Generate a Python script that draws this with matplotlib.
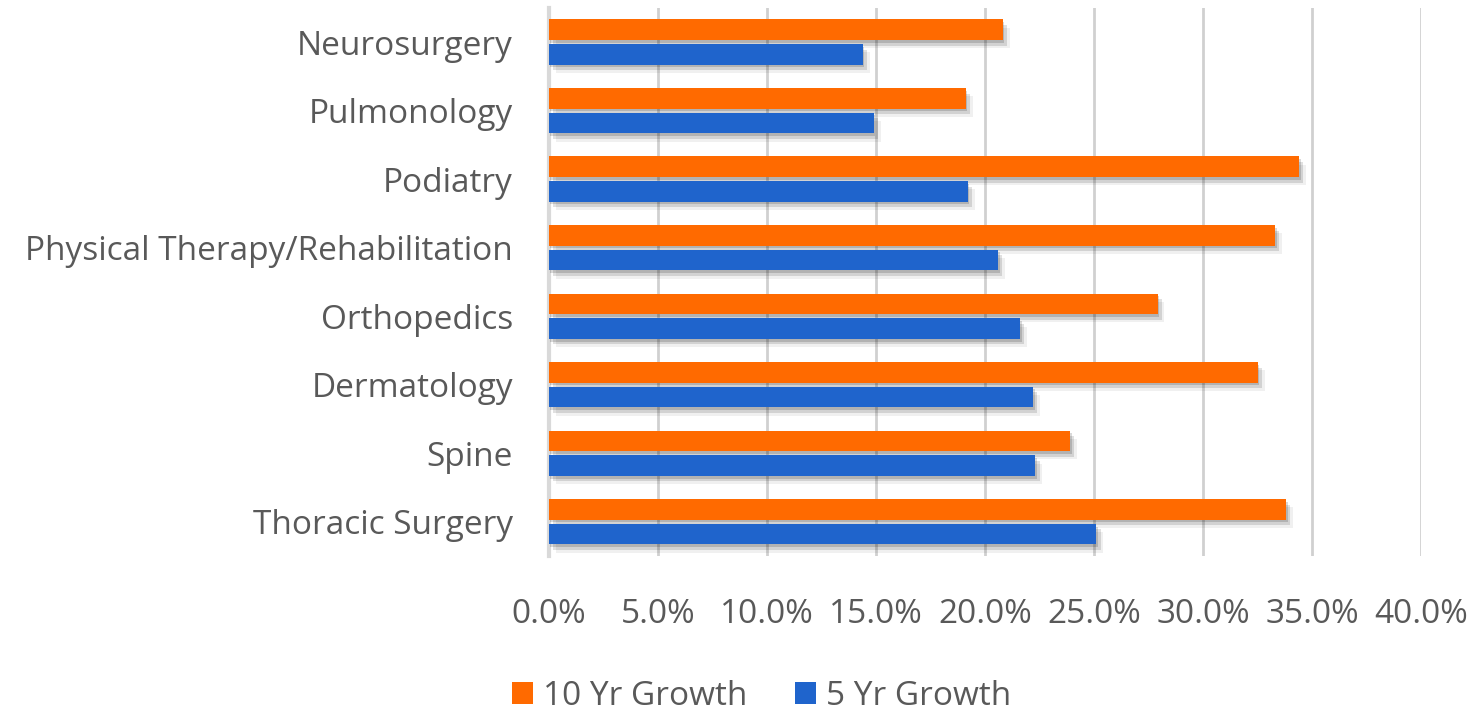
import numpy as np
import matplotlib
matplotlib.use("Agg")
import matplotlib.pyplot as plt
import matplotlib.patheffects as pe
from matplotlib.patches import Patch
from matplotlib.ticker import FuncFormatter, MultipleLocator

# Données (de bas en haut)
specialites = ["Thoracic Surgery", "Spine", "Dermatology", "Orthopedics",
               "Physical Therapy/Rehabilitation", "Podiatry", "Pulmonology", "Neurosurgery"]
croissance_10 = [0.338, 0.239, 0.325, 0.279, 0.333, 0.344, 0.191, 0.208]
croissance_5 = [0.251, 0.223, 0.222, 0.216, 0.206, 0.192, 0.149, 0.144]

gris_texte = "#595959"
orange = "#FF6A00"
bleu = "#1F64CC"

plt.rcParams['font.family'] = ['Open Sans', 'DejaVu Sans']

fig = plt.figure(figsize=(14.76, 7.1), dpi=100)
ax = fig.add_axes([0.372, 0.217, 0.591, 0.772])

y = np.arange(len(specialites))
hauteur = 0.30
# ombre douce : plusieurs couches décalées
ombre = [pe.SimplePatchShadow(offset=(1, -2), shadow_rgbFace="#000000", alpha=0.15),
         pe.SimplePatchShadow(offset=(3, -4), shadow_rgbFace="#000000", alpha=0.12),
         pe.SimplePatchShadow(offset=(5, -6), shadow_rgbFace="#000000", alpha=0.06),
         pe.Normal()]

ax.barh(y + 0.18, croissance_10, height=hauteur, color=orange, path_effects=ombre, zorder=3)
ax.barh(y - 0.18, croissance_5, height=hauteur, color=bleu, path_effects=ombre, zorder=3)

ax.set_xlim(0, 0.40)
ax.set_ylim(-0.5, len(specialites) - 0.5)
ax.xaxis.set_major_locator(MultipleLocator(0.05))
ax.xaxis.set_major_formatter(FuncFormatter(lambda v, _: f"{v*100:.1f}%"))
ax.set_yticks(y)
ax.set_yticklabels(specialites)

ax.grid(axis='x', color="#d0d0d0", linewidth=2, zorder=0)
for s in ["top", "right", "bottom"]:
    ax.spines[s].set_visible(False)
ax.spines["left"].set_color("#d9d9d9")
ax.spines["left"].set_linewidth(3)

ax.tick_params(axis='x', length=0, pad=30, labelsize=24, labelcolor=gris_texte)
ax.tick_params(axis='y', length=0, pad=26, labelsize=24, labelcolor=gris_texte)

legende = [Patch(facecolor=orange, label="10 Yr Growth"),
           Patch(facecolor=bleu, label="5 Yr Growth")]
fig.legend(handles=legende, loc='lower center', bbox_to_anchor=(0.516, -0.046), ncol=2,
           frameon=False, fontsize=24, labelcolor=gris_texte, handlelength=0.62,
           handleheight=0.62, handletextpad=0.3, columnspacing=1.45)

fig.savefig("out.png", dpi=100)
